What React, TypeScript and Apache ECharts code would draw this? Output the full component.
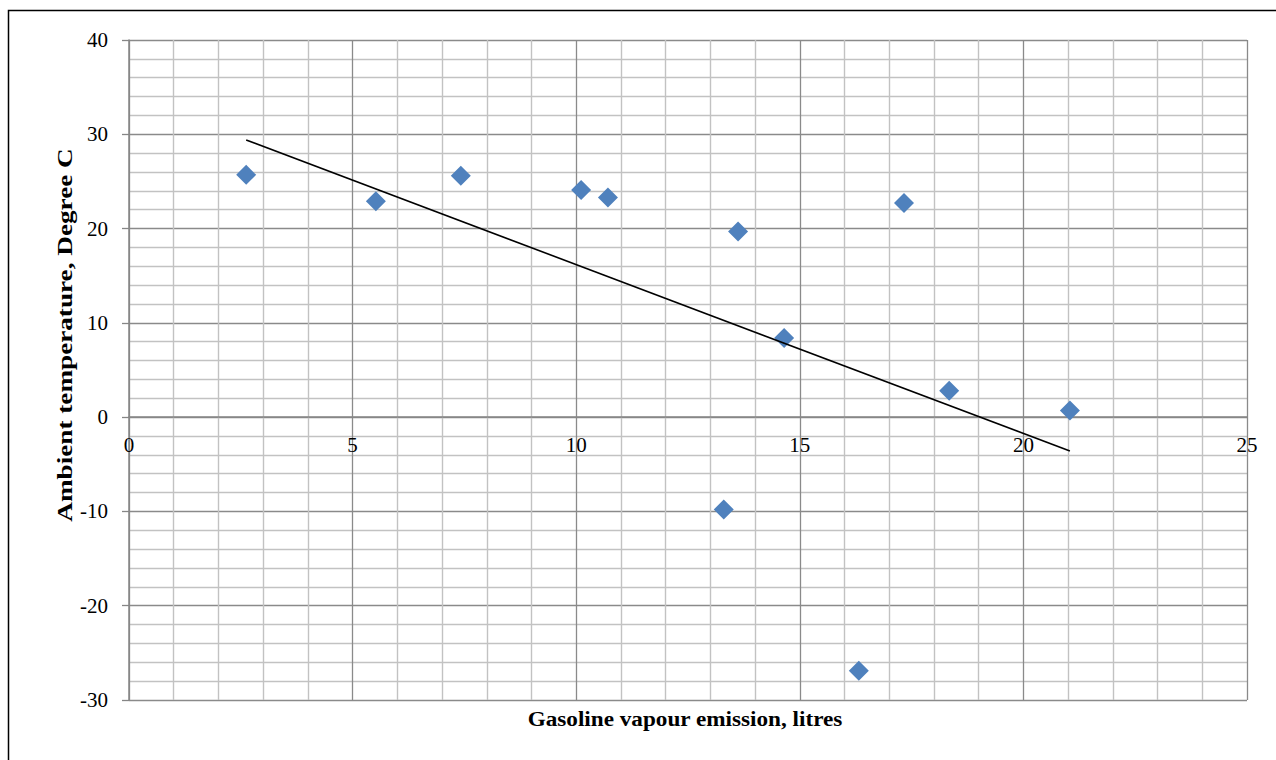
import React, { useEffect, useRef } from "react";
import * as echarts from "echarts";

const emission = [2.62, 5.52, 7.42, 10.11, 10.71, 13.62, 14.65, 13.3, 16.32, 17.33, 18.34, 21.04];
const temperature = [25.7, 22.9, 25.6, 24.1, 23.3, 19.7, 8.4, -9.8, -26.9, 22.7, 2.8, 0.7];
const trendX = [2.62, 21.04];
const trendY = [29.4, -3.6];
const xTitle = "Gasoline vapour emission, litres";
const yTitle = "Ambient temperature, Degree C";

const FONT = "'Liberation Serif', 'Times New Roman', serif";
const Y_MIN = -30;
const Y_MAX = 40;
const GRID_TOP = 40;
const GRID_BOTTOM_PX = 700;

export default function App() {
  const ref = useRef<HTMLDivElement>(null);
  useEffect(() => {
    if (!ref.current) return;
    const chart = echarts.init(ref.current, undefined, { renderer: "svg" });
    const plotH = GRID_BOTTOM_PX - GRID_TOP;
    const zeroOffset = -(plotH * (0 - Y_MIN)) / (Y_MAX - Y_MIN);
    chart.setOption({
      animation: false,
      backgroundColor: "#ffffff",
      textStyle: { fontFamily: FONT },
      grid: { left: 129, right: 29, top: GRID_TOP, bottom: 760 - GRID_BOTTOM_PX, containLabel: false },
      xAxis: {
        type: "value",
        min: 0,
        max: 25,
        interval: 5,
        position: "bottom",
        offset: zeroOffset,
        axisLine: { onZero: false, lineStyle: { color: "#868686", width: 1.5 } },
        axisTick: { show: false },
        axisLabel: { color: "#000", fontSize: 21, fontFamily: FONT, margin: 17 },
        splitLine: { show: true, lineStyle: { color: "#8a8a8a", width: 1.3 } },
        minorTick: { show: false, splitNumber: 5 },
        minorSplitLine: { show: true, lineStyle: { color: "#c2c2c2", width: 1.4 } },
      },
      yAxis: {
        type: "value",
        min: Y_MIN,
        max: Y_MAX,
        interval: 10,
        axisLine: { show: true, onZero: false, lineStyle: { color: "#868686", width: 1.5 } },
        axisTick: { show: true, length: 7, lineStyle: { color: "#868686", width: 1.3 } },
        axisLabel: { color: "#000", fontSize: 21, fontFamily: FONT, margin: 21 },
        splitLine: { show: true, lineStyle: { color: "#8a8a8a", width: 1.3 } },
        minorTick: { show: false, splitNumber: 5 },
        minorSplitLine: { show: true, lineStyle: { color: "#c2c2c2", width: 1.4 } },
      },
      graphic: [
        {
          type: "rect",
          shape: { x: 8.5, y: 10.5, width: 1300, height: 800 },
          style: { fill: "none", stroke: "#000", lineWidth: 1.5 },
          silent: true,
        },
        {
          type: "text",
          x: 65,
          y: 335,
          rotation: Math.PI / 2,
          scaleX: 1.36,
          style: {
            text: yTitle,
            font: `bold 20px ${FONT}`,
            fill: "#000",
            align: "center",
            verticalAlign: "middle",
          },
        },
        {
          type: "text",
          x: 685,
          y: 720,
          scaleX: 1.16,
          style: {
            text: xTitle,
            font: `bold 20px ${FONT}`,
            fill: "#000",
            align: "center",
            verticalAlign: "middle",
          },
        },
      ],
      series: [
        {
          type: "scatter",
          symbol: "diamond",
          symbolSize: 20,
          itemStyle: { color: "#4f81bd", opacity: 1 },
          data: emission.map((x, i) => [x, temperature[i]]),
          z: 2,
        },
        {
          type: "line",
          data: trendX.map((x, i) => [x, trendY[i]]),
          symbol: "none",
          lineStyle: { color: "#000", width: 1.6 },
          z: 3,
        },
      ],
    });
    return () => chart.dispose();
  }, []);
  return (
    <div
      ref={ref}
      style={{ position: "fixed", left: 0, top: 0, width: 1276, height: 760 }}
    />
  );
}
